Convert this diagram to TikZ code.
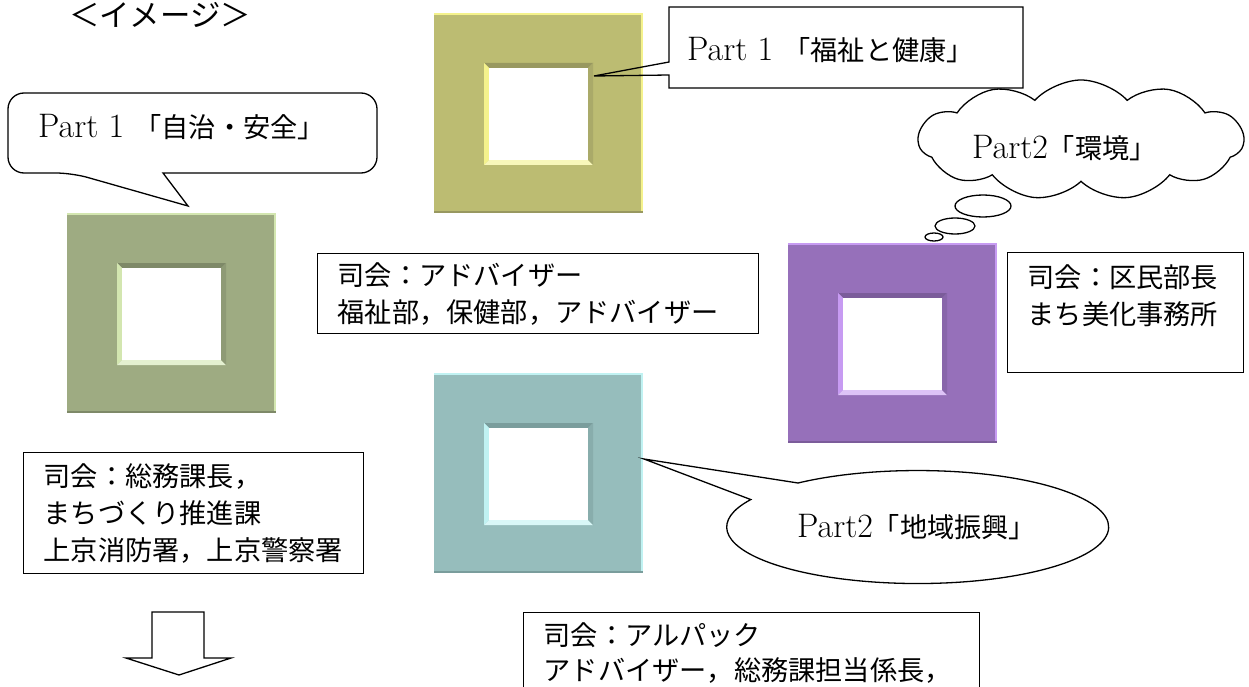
\documentclass[tikz,border=0pt]{standalone}
\usepackage{fontspec}
\usepackage{tikz}
\usetikzlibrary{shapes.symbols}
\newfontfamily\jp{Noto Sans CJK JP}[Scale=0.8]
\definecolor{grnB}{HTML}{9EAB82}\definecolor{grnL}{HTML}{D3E6B0}\definecolor{grnD}{HTML}{7E8968}
\definecolor{ylwB}{HTML}{BCBC72}\definecolor{ylwL}{HTML}{F4F28C}\definecolor{ylwD}{HTML}{989860}
\definecolor{tlB}{HTML}{96BDBC}\definecolor{tlL}{HTML}{C0F2F2}\definecolor{tlD}{HTML}{7A9D9C}
\definecolor{prpB}{HTML}{9670BA}\definecolor{prpL}{HTML}{C79BF2}\definecolor{prpD}{HTML}{7B5C9A}
\tikzset{
    every node/.style={font=\fontsize{34}{37}\selectfont, inner sep=0pt}, % text size of the whole sheet
    outl/.style={draw=black, line width=1.3pt}, % outline of callouts, boxes and the arrow
    memo/.style={outl, anchor=north west, align=left, inner xsep=20pt, font=\jp\fontsize{34}{37}\selectfont},
    pics/sqframe/.style n args={3}{code={ % square frame with bevelled hole: fill, light, dark
        \fill[#1] (0,0) rectangle (209,200);
        \fill[#2] (0,0) rectangle (209,2);
        \fill[#2] (207,0) rectangle (209,200);
        \fill[#3] (0,198) rectangle (209,200);
        \fill[#3] (50,50) -- (159,50) -- (154,55) -- (55,55) -- cycle;
        \fill[#2] (50,50) -- (55,55) -- (55,147) -- (50,152) -- cycle;
        \fill[#2!60!white] (50,152) -- (55,147) -- (154,147) -- (159,152) -- cycle;
        \fill[#3!50!#1] (159,50) -- (159,152) -- (154,147) -- (154,55) -- cycle;
        \fill[white] (55,55) rectangle (154,147);
    }},
}
\begin{document}
\begin{tikzpicture}[x=1pt, y=-1pt]
    \useasboundingbox (0,0) rectangle (1249,687);
    \clip (0,0) rectangle (1249,687);

    \node[anchor=base, font=\jp\fontsize{38}{40}\selectfont] (ttl) at (160,27) {＜イメージ＞};

    \pic (f1) at (67,213) {sqframe={grnB}{grnL}{grnD}};
    \pic (f2) at (434,13) {sqframe={ylwB}{ylwL}{ylwD}};
    \pic (f3) at (434,373) {sqframe={tlB}{tlL}{tlD}};
    \pic (f4) at (788,243) {sqframe={prpB}{prpL}{prpD}};

    % callouts
    \draw[outl] (188,206) -- (163,173) [rounded corners=16pt] -- (377,173) -- (377,93) -- (8,93)
        -- (8,173) -- (72,173) [sharp corners] -- cycle;
    \node[anchor=base west] (p1) at (38,138) {Part 1 {\jp 「自治・安全」}};

    \draw[outl] (594,76) -- (669,62) -- (669,7) -- (1023,7) -- (1023,88) -- (669,88) -- (669,75) -- cycle;
    \node[anchor=base west] (p2) at (687,61) {Part 1 {\jp 「福祉と健康」}};

    \node[cloud, outl, cloud puffs=11, cloud puff arc=95, aspect=2.7, minimum width=325pt, minimum height=120pt] (cl) at (1081,140) {};
    \draw[outl] (983,206) ellipse [x radius=28pt, y radius=11pt];
    \draw[outl] (955,226) ellipse [x radius=20pt, y radius=8pt];
    \draw[outl] (934,237) ellipse [x radius=9pt, y radius=4pt];
    \node[anchor=base west] (p3) at (972,159) {Part2{\jp 「環境」}};

    \draw[outl] (798,483) arc[start angle=128.8, end angle=-209.1, x radius=191pt, y radius=56.5pt]
        -- (644,459) -- cycle;
    \node[anchor=base west] (p4) at (797,537) {Part2{\jp 「地域振興」}};

    % boxes
    \node[memo, text width=401pt, minimum height=80pt] (b1) at (317,253)
        {司会：アドバイザー\\福祉部，保健部，アドバイザー};
    \node[memo, text width=300pt, minimum height=121pt] (b2) at (23,452)
        {司会：総務課長，\\まちづくり推進課\\上京消防署，上京警察署};
    \node[memo, text width=196pt, minimum height=120pt] (b3) at (1007,252)
        {司会：区民部長\\まち美化事務所\\\mbox{}};
    \node[memo, text width=416pt, minimum height=112pt, font=\jp\fontsize{34}{35}\selectfont] (b4) at (523,612)
        {司会：アルパック\\アドバイザー，総務課担当係長，\\\mbox{}};

    \draw[outl] (152,612) -- (204,612) -- (204,658) -- (231,658) -- (179,675) -- (126,658) -- (152,658) -- cycle;
\end{tikzpicture}
\end{document}
